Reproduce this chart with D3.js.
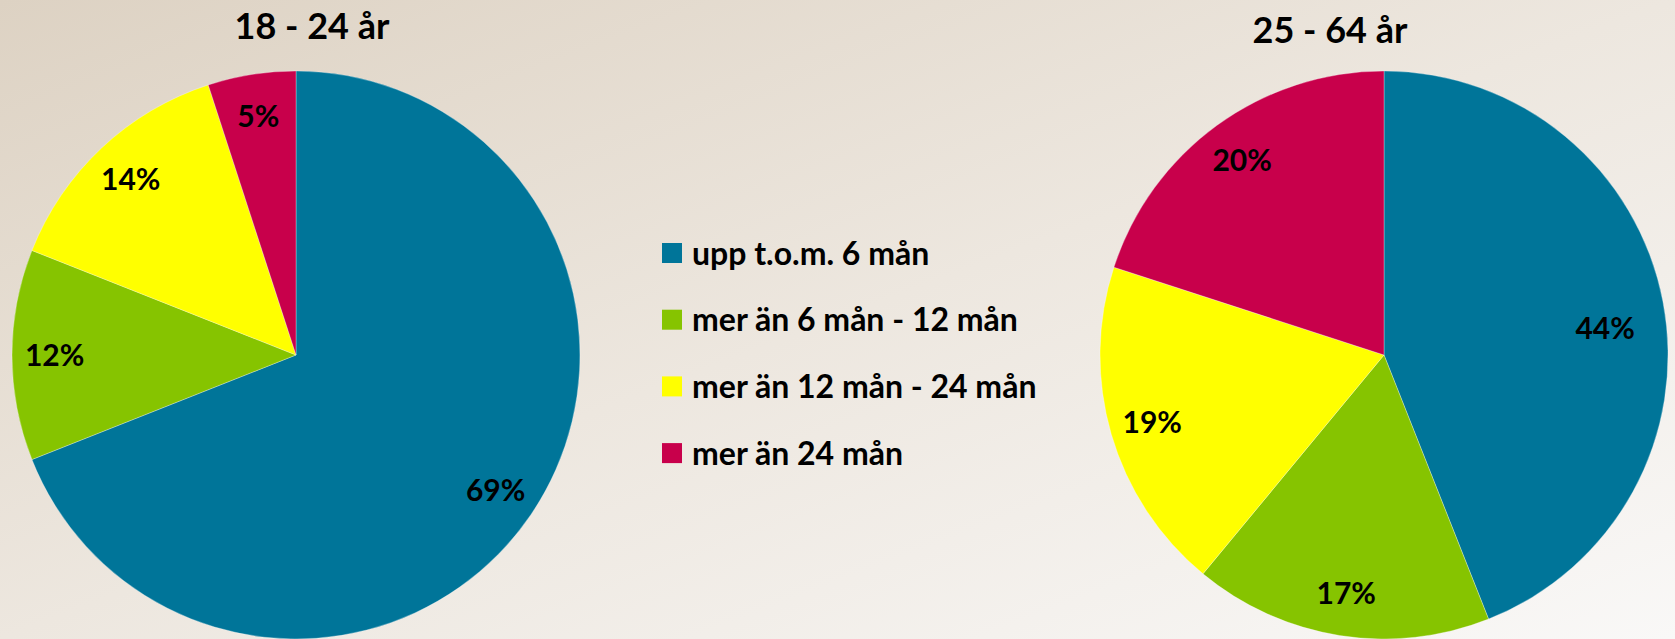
<!DOCTYPE html>
<html>
<head>
<meta charset="utf-8">
<script src="https://cdn.jsdelivr.net/npm/d3@7"></script>
<style>
  html, body { margin: 0; padding: 0; overflow: hidden; }
  svg { display: block; font-family: Lato, "Open Sans", sans-serif; font-weight: bold; }
</style>
</head>
<body>
<svg id="chart"></svg>
<script>
// categories (legend order) and colours
var categories = ['upp t.o.m. 6 mån', 'mer än 6 mån - 12 mån', 'mer än 12 mån - 24 mån', 'mer än 24 mån'];
var colors = ['#007599', '#86c400', '#ffff00', '#c8004b'];

// the two age groups
var groups = ['18 - 24 år', '25 - 64 år'];
var young = [69, 12, 14, 5];
var older = [44, 17, 19, 20];

var width = 1675, height = 639;
var svg = d3.select('#chart').attr('width', width).attr('height', height);

// background gradient, beige top-left to near white bottom-right
var defs = svg.append('defs');
var grad = defs.append('linearGradient').attr('id', 'bg')
    .attr('x1', 0).attr('y1', 0).attr('x2', 1).attr('y2', 1);
grad.append('stop').attr('offset', '0%').attr('stop-color', '#ddd2c3');
grad.append('stop').attr('offset', '50%').attr('stop-color', '#ede7df');
grad.append('stop').attr('offset', '100%').attr('stop-color', '#f9f8f7');
svg.append('rect').attr('width', width).attr('height', height).attr('fill', 'url(#bg)');

var radius = 284;
var pie = d3.pie().sort(null).value(function (d) { return d; });
var arc = d3.arc().innerRadius(0).outerRadius(radius);
var labelArc = d3.arc().innerRadius(radius * 0.85).outerRadius(radius * 0.85);

var pies = [
    { title: groups[0], values: young, cx: 296, cy: 355, tx: 312, ty: 39 },
    { title: groups[1], values: older, cx: 1384, cy: 355, tx: 1330, ty: 43 }
];

pies.forEach(function (p) {
    var g = svg.append('g').attr('transform', 'translate(' + p.cx + ',' + p.cy + ')');
    var slices = pie(p.values);
    g.selectAll('path').data(slices).enter().append('path')
        .attr('d', arc)
        .attr('fill', function (d, i) { return colors[i]; })
        .attr('stroke', '#ffffff')
        .attr('stroke-opacity', 0.5)
        .attr('stroke-width', 0.6);
    g.selectAll('text').data(slices).enter().append('text')
        .attr('transform', function (d) {
            var c = labelArc.centroid(d);
            // wide labels near 3 o'clock sit a little further in
            var s = Math.sin((d.startAngle + d.endAngle) / 2);
            if (s > 0.9) { c[0] -= 16; c[1] += 18; }
            return 'translate(' + c + ')';
        })
        .attr('text-anchor', 'middle')
        .attr('dy', '0.36em')
        .attr('font-size', 30)
        .attr('fill', '#000')
        .text(function (d) { return d.data + '%'; });
    svg.append('text')
        .attr('x', p.tx).attr('y', p.ty)
        .attr('text-anchor', 'middle')
        .attr('font-size', 36)
        .attr('fill', '#000')
        .text(p.title);
});

// legend
var legend = svg.append('g').attr('transform', 'translate(662,253)');
var item = legend.selectAll('g').data(categories).enter().append('g')
    .attr('transform', function (d, i) { return 'translate(0,' + (i * 66.7) + ')'; });
item.append('rect').attr('x', 0).attr('y', -10).attr('width', 20).attr('height', 20)
    .attr('fill', function (d, i) { return colors[i]; });
item.append('text').attr('x', 30).attr('dy', '0.36em')
    .attr('font-size', 32).attr('fill', '#000')
    .text(function (d) { return d; });
</script>
</body>
</html>
